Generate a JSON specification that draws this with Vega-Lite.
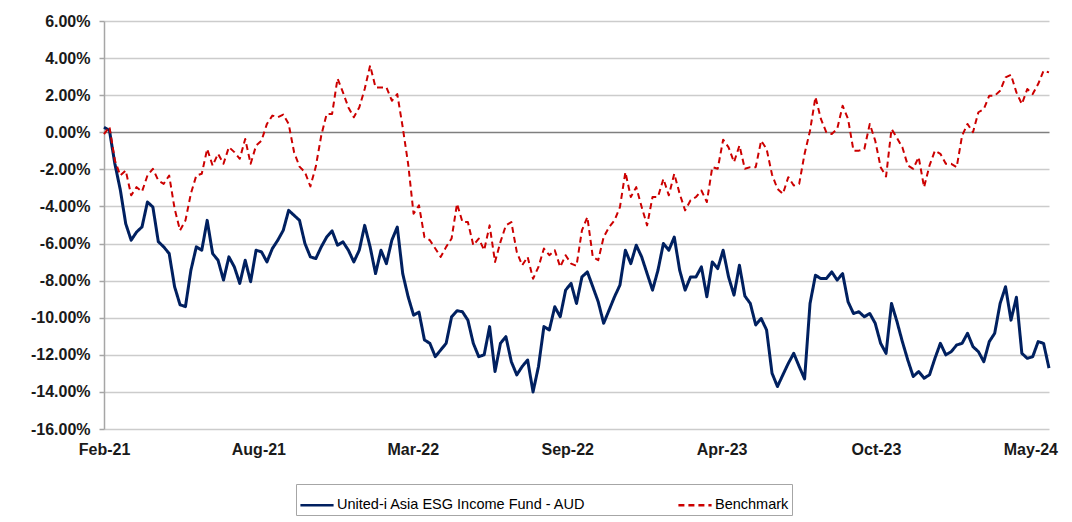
{
  "$schema": "https://vega.github.io/schema/vega-lite/v6.json",
  "autosize": {"type": "none"},
  "width": 945,
  "height": 408,
  "padding": {"left": 104, "top": 21, "right": 23, "bottom": 93},
  "background": "#ffffff",
  "config": {
    "view": {"stroke": null},
    "font": "Liberation Sans"
  },
  "data": {"values": [
    {"d":"2021-02-01","fund":0.27,"bench":-0.1},
    {"d":"2021-02-08","fund":0.1,"bench":0.3},
    {"d":"2021-02-15","fund":-1.7,"bench":-1.52},
    {"d":"2021-02-22","fund":-3.1,"bench":-2.33},
    {"d":"2021-03-01","fund":-4.93,"bench":-2.06},
    {"d":"2021-03-08","fund":-5.82,"bench":-3.4},
    {"d":"2021-03-15","fund":-5.38,"bench":-2.96},
    {"d":"2021-03-22","fund":-5.1,"bench":-3.2},
    {"d":"2021-03-29","fund":-3.76,"bench":-2.33},
    {"d":"2021-04-05","fund":-4.03,"bench":-1.97},
    {"d":"2021-04-12","fund":-5.9,"bench":-2.6},
    {"d":"2021-04-19","fund":-6.18,"bench":-2.78},
    {"d":"2021-04-26","fund":-6.54,"bench":-2.33},
    {"d":"2021-05-03","fund":-8.33,"bench":-4.12},
    {"d":"2021-05-10","fund":-9.3,"bench":-5.29},
    {"d":"2021-05-17","fund":-9.4,"bench":-4.75},
    {"d":"2021-05-24","fund":-7.44,"bench":-3.3},
    {"d":"2021-05-31","fund":-6.18,"bench":-2.33},
    {"d":"2021-06-07","fund":-6.36,"bench":-2.24},
    {"d":"2021-06-14","fund":-4.75,"bench":-0.9},
    {"d":"2021-06-21","fund":-6.54,"bench":-1.8},
    {"d":"2021-06-28","fund":-6.9,"bench":-1.16},
    {"d":"2021-07-05","fund":-7.97,"bench":-1.7},
    {"d":"2021-07-12","fund":-6.72,"bench":-0.8},
    {"d":"2021-07-19","fund":-7.26,"bench":-1.07},
    {"d":"2021-07-26","fund":-8.15,"bench":-1.43},
    {"d":"2021-08-02","fund":-6.9,"bench":-0.36},
    {"d":"2021-08-09","fund":-8.06,"bench":-1.7},
    {"d":"2021-08-16","fund":-6.36,"bench":-0.72},
    {"d":"2021-08-23","fund":-6.45,"bench":-0.45},
    {"d":"2021-08-30","fund":-6.99,"bench":0.45},
    {"d":"2021-09-06","fund":-6.27,"bench":0.9},
    {"d":"2021-09-13","fund":-5.82,"bench":0.81},
    {"d":"2021-09-20","fund":-5.29,"bench":0.95},
    {"d":"2021-09-27","fund":-4.21,"bench":0.45},
    {"d":"2021-10-04","fund":-4.48,"bench":-1.08},
    {"d":"2021-10-11","fund":-4.75,"bench":-1.85},
    {"d":"2021-10-18","fund":-6.0,"bench":-2.15},
    {"d":"2021-10-25","fund":-6.72,"bench":-2.92},
    {"d":"2021-11-01","fund":-6.81,"bench":-1.85},
    {"d":"2021-11-08","fund":-6.18,"bench":-0.18},
    {"d":"2021-11-15","fund":-5.65,"bench":0.99},
    {"d":"2021-11-22","fund":-5.32,"bench":0.99},
    {"d":"2021-11-29","fund":-6.09,"bench":2.9},
    {"d":"2021-12-06","fund":-5.91,"bench":2.15},
    {"d":"2021-12-13","fund":-6.36,"bench":1.34},
    {"d":"2021-12-20","fund":-6.99,"bench":0.81},
    {"d":"2021-12-27","fund":-6.36,"bench":1.34},
    {"d":"2022-01-03","fund":-5.02,"bench":2.33},
    {"d":"2022-01-10","fund":-6.18,"bench":3.6},
    {"d":"2022-01-17","fund":-7.62,"bench":2.42},
    {"d":"2022-01-24","fund":-6.36,"bench":2.42},
    {"d":"2022-01-31","fund":-7.08,"bench":2.42},
    {"d":"2022-02-07","fund":-5.82,"bench":1.7},
    {"d":"2022-02-14","fund":-5.11,"bench":2.06},
    {"d":"2022-02-21","fund":-7.62,"bench":0.27},
    {"d":"2022-02-28","fund":-8.87,"bench":-1.7},
    {"d":"2022-03-07","fund":-9.86,"bench":-4.39},
    {"d":"2022-03-14","fund":-9.7,"bench":-3.94},
    {"d":"2022-03-21","fund":-11.2,"bench":-5.65},
    {"d":"2022-03-28","fund":-11.38,"bench":-5.82},
    {"d":"2022-04-04","fund":-12.1,"bench":-6.27},
    {"d":"2022-04-11","fund":-11.74,"bench":-6.72},
    {"d":"2022-04-18","fund":-11.38,"bench":-6.18},
    {"d":"2022-04-25","fund":-9.95,"bench":-5.73},
    {"d":"2022-05-02","fund":-9.62,"bench":-3.85},
    {"d":"2022-05-09","fund":-9.68,"bench":-4.84},
    {"d":"2022-05-16","fund":-10.13,"bench":-4.84},
    {"d":"2022-05-23","fund":-11.38,"bench":-6.09},
    {"d":"2022-05-30","fund":-12.1,"bench":-5.73},
    {"d":"2022-06-06","fund":-12.0,"bench":-6.36},
    {"d":"2022-06-13","fund":-10.48,"bench":-5.02},
    {"d":"2022-06-20","fund":-12.9,"bench":-6.99},
    {"d":"2022-06-27","fund":-11.38,"bench":-5.91},
    {"d":"2022-07-04","fund":-11.02,"bench":-5.02},
    {"d":"2022-07-11","fund":-12.37,"bench":-4.84},
    {"d":"2022-07-18","fund":-13.08,"bench":-6.45},
    {"d":"2022-07-25","fund":-12.63,"bench":-7.17},
    {"d":"2022-08-01","fund":-12.28,"bench":-6.72},
    {"d":"2022-08-08","fund":-14.0,"bench":-7.9},
    {"d":"2022-08-15","fund":-12.63,"bench":-7.26},
    {"d":"2022-08-22","fund":-10.48,"bench":-6.27},
    {"d":"2022-08-29","fund":-10.66,"bench":-6.63},
    {"d":"2022-09-05","fund":-9.41,"bench":-6.36},
    {"d":"2022-09-12","fund":-9.95,"bench":-7.26},
    {"d":"2022-09-19","fund":-8.51,"bench":-6.63},
    {"d":"2022-09-26","fund":-8.15,"bench":-7.08},
    {"d":"2022-10-03","fund":-9.23,"bench":-7.2},
    {"d":"2022-10-10","fund":-7.8,"bench":-5.29},
    {"d":"2022-10-17","fund":-7.53,"bench":-4.57},
    {"d":"2022-10-24","fund":-8.33,"bench":-6.72},
    {"d":"2022-10-31","fund":-9.14,"bench":-6.9},
    {"d":"2022-11-07","fund":-10.3,"bench":-5.65},
    {"d":"2022-11-14","fund":-9.59,"bench":-5.11},
    {"d":"2022-11-21","fund":-8.87,"bench":-4.75},
    {"d":"2022-11-28","fund":-8.24,"bench":-4.03},
    {"d":"2022-12-05","fund":-6.36,"bench":-2.15},
    {"d":"2022-12-12","fund":-7.08,"bench":-3.49},
    {"d":"2022-12-19","fund":-6.09,"bench":-2.96},
    {"d":"2022-12-26","fund":-6.72,"bench":-4.03},
    {"d":"2023-01-02","fund":-7.62,"bench":-5.02},
    {"d":"2023-01-09","fund":-8.51,"bench":-3.49},
    {"d":"2023-01-16","fund":-7.44,"bench":-3.49},
    {"d":"2023-01-23","fund":-6.0,"bench":-2.51},
    {"d":"2023-01-30","fund":-6.36,"bench":-3.4},
    {"d":"2023-02-06","fund":-5.65,"bench":-2.24},
    {"d":"2023-02-13","fund":-7.44,"bench":-3.32},
    {"d":"2023-02-20","fund":-8.51,"bench":-4.21},
    {"d":"2023-02-27","fund":-7.8,"bench":-3.67},
    {"d":"2023-03-06","fund":-7.8,"bench":-3.49},
    {"d":"2023-03-13","fund":-7.26,"bench":-3.14},
    {"d":"2023-03-20","fund":-8.87,"bench":-3.76},
    {"d":"2023-03-27","fund":-6.99,"bench":-1.88},
    {"d":"2023-04-03","fund":-7.35,"bench":-1.97},
    {"d":"2023-04-10","fund":-6.36,"bench":-0.4},
    {"d":"2023-04-17","fund":-7.8,"bench":-0.81},
    {"d":"2023-04-24","fund":-8.78,"bench":-1.61},
    {"d":"2023-05-01","fund":-7.17,"bench":-0.72},
    {"d":"2023-05-08","fund":-8.83,"bench":-1.97},
    {"d":"2023-05-15","fund":-9.23,"bench":-1.88},
    {"d":"2023-05-22","fund":-10.39,"bench":-1.88},
    {"d":"2023-05-29","fund":-10.04,"bench":-0.45},
    {"d":"2023-06-05","fund":-10.66,"bench":-0.9},
    {"d":"2023-06-12","fund":-12.99,"bench":-2.28},
    {"d":"2023-06-19","fund":-13.71,"bench":-3.05},
    {"d":"2023-06-26","fund":-13.08,"bench":-3.32},
    {"d":"2023-07-03","fund":-12.46,"bench":-2.42},
    {"d":"2023-07-10","fund":-11.92,"bench":-2.87},
    {"d":"2023-07-17","fund":-12.63,"bench":-2.78},
    {"d":"2023-07-24","fund":-13.3,"bench":-1.16},
    {"d":"2023-07-31","fund":-9.23,"bench":0.09},
    {"d":"2023-08-07","fund":-7.71,"bench":1.9},
    {"d":"2023-08-14","fund":-7.89,"bench":0.72},
    {"d":"2023-08-21","fund":-7.89,"bench":0.0},
    {"d":"2023-08-28","fund":-7.53,"bench":-0.09},
    {"d":"2023-09-04","fund":-7.97,"bench":0.18},
    {"d":"2023-09-11","fund":-7.62,"bench":1.43},
    {"d":"2023-09-18","fund":-9.14,"bench":0.72},
    {"d":"2023-09-25","fund":-9.77,"bench":-0.99},
    {"d":"2023-10-02","fund":-9.68,"bench":-0.99},
    {"d":"2023-10-09","fund":-9.95,"bench":-0.9},
    {"d":"2023-10-16","fund":-9.77,"bench":0.45},
    {"d":"2023-10-23","fund":-10.3,"bench":-0.45},
    {"d":"2023-10-30","fund":-11.38,"bench":-1.88},
    {"d":"2023-11-06","fund":-11.92,"bench":-2.38},
    {"d":"2023-11-13","fund":-9.23,"bench":0.18},
    {"d":"2023-11-20","fund":-10.2,"bench":-0.3},
    {"d":"2023-11-27","fund":-11.29,"bench":-0.81},
    {"d":"2023-12-04","fund":-12.28,"bench":-1.79},
    {"d":"2023-12-11","fund":-13.17,"bench":-1.97},
    {"d":"2023-12-18","fund":-12.9,"bench":-1.34},
    {"d":"2023-12-25","fund":-13.26,"bench":-2.96},
    {"d":"2024-01-01","fund":-13.08,"bench":-1.79},
    {"d":"2024-01-08","fund":-12.19,"bench":-0.99},
    {"d":"2024-01-15","fund":-11.38,"bench":-1.16},
    {"d":"2024-01-22","fund":-12.0,"bench":-1.7},
    {"d":"2024-01-29","fund":-11.83,"bench":-1.7},
    {"d":"2024-02-05","fund":-11.47,"bench":-1.88},
    {"d":"2024-02-12","fund":-11.38,"bench":-0.18},
    {"d":"2024-02-19","fund":-10.84,"bench":0.45},
    {"d":"2024-02-26","fund":-11.56,"bench":0.0},
    {"d":"2024-03-04","fund":-11.83,"bench":1.08},
    {"d":"2024-03-11","fund":-12.37,"bench":1.25},
    {"d":"2024-03-18","fund":-11.29,"bench":1.97},
    {"d":"2024-03-25","fund":-10.84,"bench":1.97},
    {"d":"2024-04-01","fund":-9.23,"bench":2.24},
    {"d":"2024-04-08","fund":-8.33,"bench":2.96},
    {"d":"2024-04-15","fund":-10.13,"bench":3.1},
    {"d":"2024-04-22","fund":-8.9,"bench":2.15},
    {"d":"2024-04-29","fund":-11.92,"bench":1.52},
    {"d":"2024-05-06","fund":-12.19,"bench":2.33},
    {"d":"2024-05-13","fund":-12.1,"bench":2.06},
    {"d":"2024-05-20","fund":-11.29,"bench":2.6},
    {"d":"2024-05-27","fund":-11.38,"bench":3.32},
    {"d":"2024-06-03","fund":-12.72,"bench":3.23}
  ]},
  "transform": [{"fold": ["fund", "bench"], "as": ["series", "value"]}],
  "mark": {"type": "line", "strokeJoin": "round", "strokeCap": "butt"},
  "encoding": {
    "x": {
      "field": "d", "type": "temporal",
      "scale": {"type": "utc", "nice": false, "domain": [
        {"year": 2021, "month": 2, "date": 1, "utc": true},
        {"year": 2024, "month": 6, "date": 3, "utc": true}
      ]},
      "axis": {
        "title": null,
        "values": [
          {"year": 2021, "month": 2, "date": 1, "utc": true},
          {"year": 2021, "month": 8, "date": 19, "utc": true},
          {"year": 2022, "month": 3, "date": 6, "utc": true},
          {"year": 2022, "month": 9, "date": 21, "utc": true},
          {"year": 2023, "month": 4, "date": 8, "utc": true},
          {"year": 2023, "month": 10, "date": 24, "utc": true},
          {"year": 2024, "month": 5, "date": 10, "utc": true}
        ],
        "format": "%b-%y",
        "grid": false, "domain": false, "ticks": false,
        "labelPadding": 12,
        "labelFont": "Liberation Sans", "labelFontSize": 16, "labelFontWeight": "bold",
        "labelColor": "#1a1a1a", "labelOverlap": false, "labelFlush": false
      }
    },
    "y": {
      "field": "value", "type": "quantitative",
      "scale": {"domain": [-16, 6], "nice": false, "zero": false},
      "axis": {
        "title": null,
        "values": [-16, -14, -12, -10, -8, -6, -4, -2, 0, 2, 4, 6],
        "tickCount": 12,
        "labelExpr": "(datum.value < 0 ? '-' : '') + format(abs(datum.value), '.2f') + '%'",
        "labelFont": "Liberation Sans", "labelFontSize": 16, "labelFontWeight": "bold",
        "labelColor": "#1a1a1a", "labelPadding": 9,
        "tickSize": 5, "tickColor": "#a6a6a6", "tickWidth": 1.5,
        "domainColor": "#a6a6a6", "domainWidth": 1.5,
        "gridWidth": 1.5,
        "gridColor": {"condition": {"test": "datum.value === 0", "value": "#7f7f7f"}, "value": "#cccccc"},
        "labelOverlap": false, "labelFlush": false
      }
    },
    "color": {
      "field": "series", "type": "nominal",
      "scale": {"domain": ["fund", "bench"], "range": ["#002060", "#cc0000"]},
      "legend": {
        "orient": "none", "legendX": 192, "legendY": 463,
        "direction": "horizontal", "title": null,
        "strokeColor": "#a6a6a6", "padding": 3,
        "columnPadding": 86,
        "symbolType": "stroke", "symbolSize": 1100,
        "symbolStrokeWidth": 2.5,
        "labelFont": "Liberation Sans",
        "labelFontSize": 14.5, "labelColor": "#000000", "labelOffset": 2,
        "labelLimit": 400,
        "labelExpr": "datum.value === 'fund' ? 'United-i Asia ESG Income Fund - AUD' : 'Benchmark'"
      }
    },
    "strokeDash": {
      "field": "series", "type": "nominal",
      "scale": {"domain": ["fund", "bench"], "range": [[1, 0], [6, 4]]},
      "legend": {
        "orient": "none", "legendX": 192, "legendY": 463,
        "direction": "horizontal", "title": null,
        "labelExpr": "datum.value === 'fund' ? 'United-i Asia ESG Income Fund - AUD' : 'Benchmark'"
      }
    },
    "strokeWidth": {
      "condition": {"test": "datum.series === 'bench'", "value": 2},
      "value": 3
    }
  }
}
